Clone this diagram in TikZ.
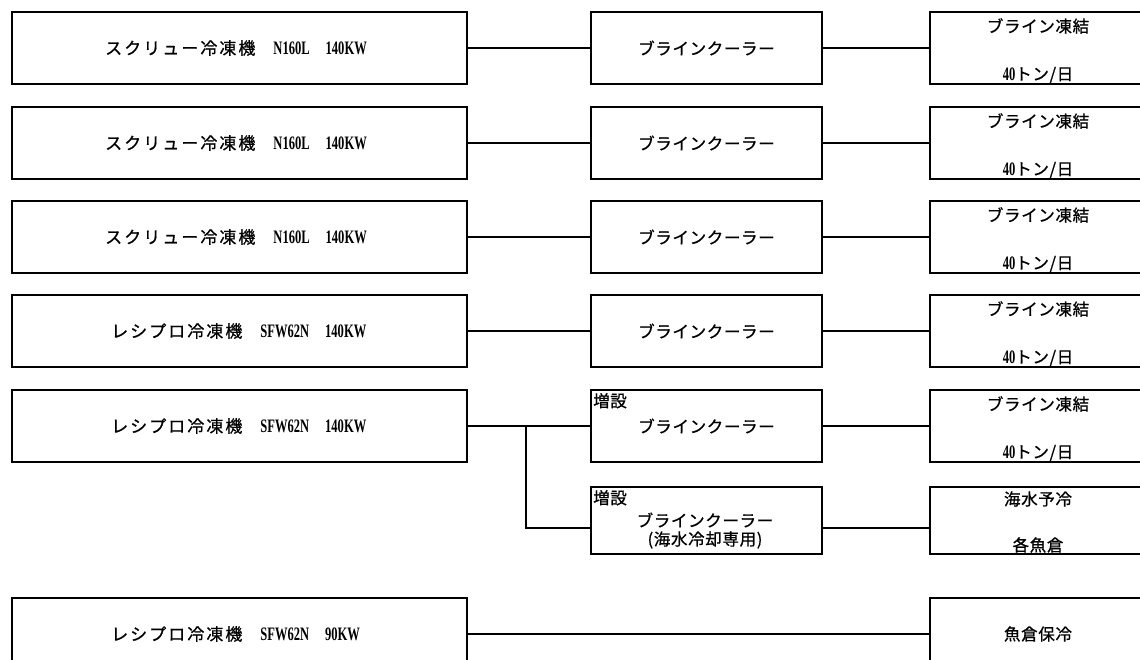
\documentclass[tikz,border=0pt]{standalone}
\usepackage{fontspec}
\setmainfont{Noto Sans CJK JP}
\newfontfamily\jp[LetterSpace=4,FakeBold=0.8]{Noto Sans CJK JP}
\newfontfamily\jpl[LetterSpace=12,FakeBold=0.8]{Noto Sans CJK JP}
\newfontfamily\lat[FakeStretch=0.66]{Liberation Serif}
\newcommand\lt[1]{{\lat\bfseries\fontsize{19}{21}\selectfont #1}}
\begin{document}
\begin{tikzpicture}[x=1pt,y=-1pt,
  box/.style={draw, line width=2pt, rectangle, inner sep=0pt, anchor=north west},
  lbox/.style={box, minimum width=455, minimum height=72},
  mbox/.style={box, minimum width=231, minimum height=72},
  rbox/.style={box, minimum width=216, minimum height=72},
  txt/.style={inner sep=0pt, font=\jp\fontsize{16.5}{19}\selectfont},
  ltxt/.style={inner sep=0pt, anchor=west, font=\jpl\fontsize{17}{19}\selectfont},
  conn/.style={line width=2pt}]
\useasboundingbox (0,0) rectangle (1140,660);
\clip (0,0) rectangle (1140,660);
% row 1
\node[lbox] (L1) at (11,11) {};
\node[mbox] (M1) at (590,11) {};
\node[rbox] (R1) at (929,11) {};
\node[ltxt] (L1t) at ([xshift=94pt]L1.west) {スクリュー冷凍機\hspace{18pt}\lt{N160L}\hspace{16pt}\lt{140KW}};
\node[txt] (M1t) at (M1.center) {ブラインクーラー};
\node[txt] (R1a) at ([yshift=-15pt]R1.north) {ブライン凍結};
\node[txt] (R1b) at ([yshift=10pt]R1.south) {\lt{40}トン/日};
\draw[conn] (L1.east) -- (M1.west);
\draw[conn] (M1.east) -- (R1.west);
% row 2
\node[lbox] (L2) at (11,106) {};
\node[mbox] (M2) at (590,106) {};
\node[rbox] (R2) at (929,106) {};
\node[ltxt] (L2t) at ([xshift=94pt]L2.west) {スクリュー冷凍機\hspace{18pt}\lt{N160L}\hspace{16pt}\lt{140KW}};
\node[txt] (M2t) at (M2.center) {ブラインクーラー};
\node[txt] (R2a) at ([yshift=-15pt]R2.north) {ブライン凍結};
\node[txt] (R2b) at ([yshift=10pt]R2.south) {\lt{40}トン/日};
\draw[conn] (L2.east) -- (M2.west);
\draw[conn] (M2.east) -- (R2.west);
% row 3
\node[lbox] (L3) at (11,200) {};
\node[mbox] (M3) at (590,200) {};
\node[rbox] (R3) at (929,200) {};
\node[ltxt] (L3t) at ([xshift=94pt]L3.west) {スクリュー冷凍機\hspace{18pt}\lt{N160L}\hspace{16pt}\lt{140KW}};
\node[txt] (M3t) at (M3.center) {ブラインクーラー};
\node[txt] (R3a) at ([yshift=-15pt]R3.north) {ブライン凍結};
\node[txt] (R3b) at ([yshift=10pt]R3.south) {\lt{40}トン/日};
\draw[conn] (L3.east) -- (M3.west);
\draw[conn] (M3.east) -- (R3.west);
% row 4
\node[lbox] (L4) at (11,294) {};
\node[mbox] (M4) at (590,294) {};
\node[rbox] (R4) at (929,294) {};
\node[ltxt] (L4t) at ([xshift=100pt]L4.west) {レシプロ冷凍機\hspace{18pt}\lt{SFW62N}\hspace{16pt}\lt{140KW}};
\node[txt] (M4t) at (M4.center) {ブラインクーラー};
\node[txt] (R4a) at ([yshift=-15pt]R4.north) {ブライン凍結};
\node[txt] (R4b) at ([yshift=10pt]R4.south) {\lt{40}トン/日};
\draw[conn] (L4.east) -- (M4.west);
\draw[conn] (M4.east) -- (R4.west);
% row 5
\node[lbox] (L5) at (11,389) {};
\node[mbox] (M5) at (590,389) {};
\node[rbox] (R5) at (929,389) {};
\node[ltxt] (L5t) at ([xshift=100pt]L5.west) {レシプロ冷凍機\hspace{18pt}\lt{SFW62N}\hspace{16pt}\lt{140KW}};
\node[txt, anchor=north west] (M5z) at ([xshift=3pt,yshift=-4pt]M5.north west) {増設};
\node[txt] (M5t) at (M5.center) {ブラインクーラー};
\node[txt] (R5a) at ([yshift=-15pt]R5.north) {ブライン凍結};
\node[txt] (R5b) at ([yshift=10pt]R5.south) {\lt{40}トン/日};
\draw[conn] (L5.east) -- (M5.west);
\draw[conn] (M5.east) -- (R5.west);
% row 6
\node[mbox, minimum height=67] (M6) at (590,486) {};
\node[rbox, minimum height=67] (R6) at (929,486) {};
\coordinate (J5) at (526,425);
\coordinate (B6) at (526,528);
\node[txt, anchor=north west] (M6z) at ([xshift=3pt,yshift=-4pt]M6.north west) {増設};
\node[txt] (M6t) at (705,520) {ブラインクーラー};
\node[txt] (M6u) at (705,540) {(海水冷却専用)};
\node[txt] (R6a) at ([yshift=-13pt]R6.north) {海水予冷};
\node[txt] (R6b) at ([yshift=10pt]R6.south) {各魚倉};
\draw[conn] (J5) -- (B6) -- (M6.west |- B6);
\draw[conn] (M6.east |- B6) -- (R6.west |- B6);
% row 7
\node[lbox] (L7) at (11,597) {};
\node[rbox] (R7) at (929,597) {};
\node[ltxt] (L7t) at ([xshift=100pt]L7.west) {レシプロ冷凍機\hspace{18pt}\lt{SFW62N}\hspace{16pt}\lt{90KW}};
\node[txt] (R7t) at (R7.center) {魚倉保冷};
\draw[conn] (L7.east) -- (R7.west);
\end{tikzpicture}
\end{document}
